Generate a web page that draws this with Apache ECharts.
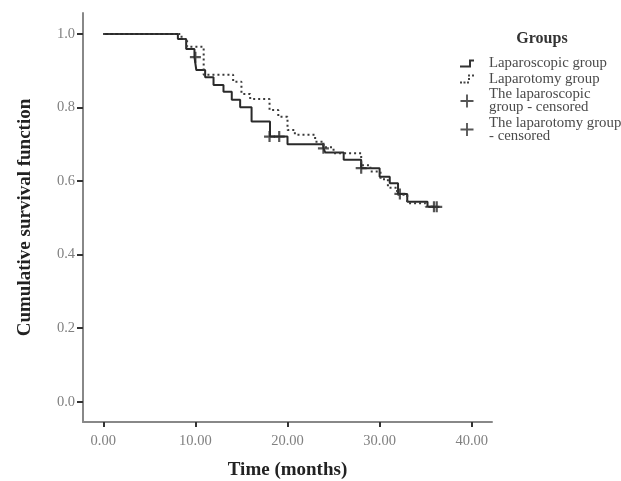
<!DOCTYPE html>
<html>
<head>
<meta charset="utf-8">
<script src="https://cdn.jsdelivr.net/npm/echarts@6/dist/echarts.min.js"></script>
<style>
  html, body { margin: 0; padding: 0; background: #fff; }
  #chart { width: 621px; height: 481px; }
</style>
</head>
<body>
<div id="chart"></div>
<script>
// 腹腔镜组 生存曲线（时间, 累积生存率）
const lapTime = [0, 8.1, 9.0, 9.9, 10.1, 11.06, 11.97, 13.05, 13.95, 14.86, 16.1, 18.1, 20.0, 23.9, 24.1, 26.1, 28.0, 30.0, 31.1, 32.0, 33.0, 35.2, 35.9]
const lapSurv = [1.0, 0.986, 0.959, 0.937, 0.902, 0.882, 0.861, 0.843, 0.821, 0.801, 0.762, 0.721, 0.700, 0.689, 0.678, 0.658, 0.635, 0.612, 0.594, 0.565, 0.544, 0.530, 0.530]
// 开腹组 生存曲线
const openTime = [0, 8.5, 9.1, 10.9, 14.1, 15.0, 15.95, 18.05, 19.0, 20.0, 20.8, 23.0, 23.9, 25.0, 28.0, 29.0, 30.1, 30.9, 31.9, 33.0, 35.0, 36.2]
const openSurv = [1.0, 0.986, 0.965, 0.889, 0.870, 0.837, 0.823, 0.793, 0.775, 0.739, 0.726, 0.707, 0.692, 0.676, 0.643, 0.626, 0.605, 0.582, 0.563, 0.540, 0.530, 0.530]
// 删失点
const lapCensorTime = [10.0, 18.05, 19.1, 23.9, 28.0, 32.2, 35.9]
const lapCensorSurv = [0.937, 0.721, 0.721, 0.689, 0.635, 0.565, 0.530]
const openCensorTime = [36.2]
const openCensorSurv = [0.530]

const xTicks = [0, 10, 20, 30, 40]
const yTicks = [0, 0.2, 0.4, 0.6, 0.8, 1.0]

const legendNames = {
  'Laparoscopic group': 'Laparoscopic group',
  'Laparotomy group': 'Laparotomy group',
  'lapCensored': 'The laparoscopic\ngroup - censored',
  'openCensored': 'The laparotomy group\n- censored'
}

const zip = (a, b) => a.map((v, i) => [v, b[i]])

const plusPath = 'path://M4,0 L6,0 L6,4 L10,4 L10,6 L6,6 L6,10 L4,10 L4,6 L0,6 L0,4 L4,4 Z'
const stepIcon = 'path://M0,7 L9,7 L9,1 L14,1 L14,3 L11,3 L11,9 L0,9 Z'
const dotIcon = 'path://M0,7 L2,7 L2,9 L0,9 Z M3.5,7 L5.5,7 L5.5,9 L3.5,9 Z M7,7 L9,7 L9,9 L7,9 Z M8,3.5 L10,3.5 L10,5.5 L8,5.5 Z M8,0 L10,0 L10,2 L8,2 Z M12,0 L14,0 L14,2 L12,2 Z'
const plusIcon = 'path://M6,0 L8,0 L8,6 L14,6 L14,8 L8,8 L8,14 L6,14 L6,8 L0,8 L0,6 L6,6 Z'

const serif = 'Liberation Serif'
const myChart = echarts.init(document.getElementById('chart'))

myChart.setOption({
  animation: false,
  title: {
    text: 'Groups',
    left: 537,
    top: 26,
    textAlign: 'center',
    textStyle: { fontFamily: serif, fontSize: 16, fontWeight: 'bold', color: '#333' }
  },
  legend: {
    orient: 'vertical',
    left: 455,
    top: 51,
    itemWidth: 14,
    itemHeight: 13,
    itemGap: 0.5,
    selectedMode: false,
    formatter: name => legendNames[name],
    textStyle: { fontFamily: serif, fontSize: 14.8, lineHeight: 13, color: '#4a4a4a', padding: [0, 0, 0, 10] },
    data: [
      { name: 'Laparoscopic group', icon: stepIcon },
      { name: 'Laparotomy group', icon: dotIcon },
      { name: 'lapCensored', icon: plusIcon },
      { name: 'openCensored', icon: plusIcon }
    ]
  },
  grid: { left: 83, right: 129, top: 13, bottom: 59, outerBoundsMode: 'none' },
  xAxis: {
    type: 'value',
    min: -2.2,
    max: 42.2,
    name: 'Time (months)',
    nameLocation: 'middle',
    nameGap: 39,
    nameTextStyle: { fontFamily: serif, fontSize: 19, fontWeight: 'bold', color: '#222' },
    axisLine: { onZero: false, lineStyle: { color: '#888', width: 2 } },
    axisTick: { show: true, customValues: xTicks, length: 5, lineStyle: { color: '#333', width: 2 } },
    axisLabel: { customValues: xTicks, formatter: v => v.toFixed(2), fontFamily: serif, fontSize: 14.5, color: '#808080', margin: 12 },
    splitLine: { show: false }
  },
  yAxis: {
    type: 'value',
    min: -0.055,
    max: 1.057,
    name: 'Cumulative survival function',
    nameLocation: 'middle',
    nameGap: 48,
    nameTextStyle: { fontFamily: serif, fontSize: 19, fontWeight: 'bold', color: '#222' },
    axisLine: { show: true, onZero: false, lineStyle: { color: '#888', width: 2 } },
    axisTick: { show: true, customValues: yTicks, length: 6, lineStyle: { color: '#333', width: 2 } },
    axisLabel: { customValues: yTicks, formatter: v => v.toFixed(1), fontFamily: serif, fontSize: 14.5, color: '#808080', margin: 8 },
    splitLine: { show: false }
  },
  series: [
    {
      name: 'Laparoscopic group',
      type: 'line',
      step: 'end',
      symbol: 'none',
      color: '#333',
      lineStyle: { width: 2, color: '#2a2a2a' },
      data: zip(lapTime, lapSurv)
    },
    {
      name: 'Laparotomy group',
      type: 'line',
      step: 'end',
      symbol: 'none',
      color: '#444',
      lineStyle: { width: 2, color: '#3a3a3a', type: [2, 3] },
      data: zip(openTime, openSurv)
    },
    {
      name: 'lapCensored',
      type: 'scatter',
      symbol: plusPath,
      symbolSize: 11,
      color: '#2a2a2a',
      data: zip(lapCensorTime, lapCensorSurv)
    },
    {
      name: 'openCensored',
      type: 'scatter',
      symbol: plusPath,
      symbolSize: 11,
      color: '#2a2a2a',
      data: zip(openCensorTime, openCensorSurv)
    }
  ]
})
</script>
</body>
</html>
